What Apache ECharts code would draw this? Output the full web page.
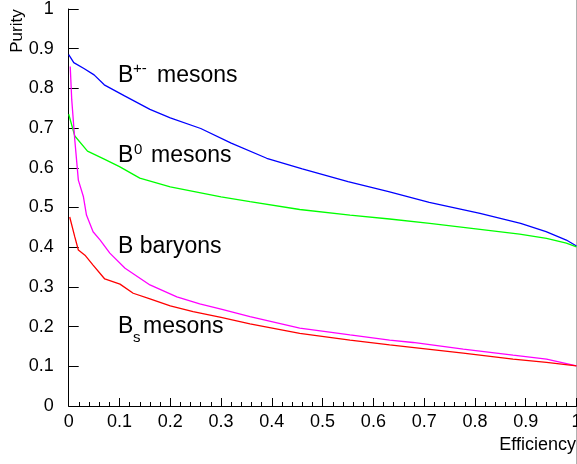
<!DOCTYPE html>
<html>
<head>
<meta charset="utf-8">
<script src="https://cdn.jsdelivr.net/npm/echarts@6/dist/echarts.min.js"></script>
<style>
  html, body { margin: 0; padding: 0; background: #fff; }
  #chart { width: 577px; height: 464px; }
</style>
</head>
<body>
<div id="chart"></div>
<script>
// purity vs efficiency
var bPlusMinus = [[0, 0.885], [0.01, 0.865], [0.03, 0.85], [0.05, 0.834], [0.07, 0.809], [0.11, 0.781],
  [0.16, 0.747], [0.2, 0.726], [0.26, 0.699], [0.32, 0.662], [0.39, 0.624], [0.46, 0.597], [0.55, 0.565],
  [0.63, 0.54], [0.71, 0.513], [0.81, 0.485], [0.89, 0.46], [0.94, 0.439], [0.98, 0.418], [1.0, 0.403]];
var bZero = [[0, 0.735], [0.012, 0.68], [0.037, 0.642], [0.07, 0.622], [0.1, 0.603], [0.14, 0.574],
  [0.2, 0.552], [0.26, 0.537], [0.3, 0.527], [0.357, 0.515], [0.455, 0.495], [0.554, 0.481], [0.632, 0.471],
  [0.711, 0.46], [0.81, 0.445], [0.888, 0.433], [0.941, 0.422], [0.98, 0.41], [1.0, 0.401]];
var bBaryons = [[0.003, 0.855], [0.006, 0.771], [0.012, 0.67], [0.019, 0.569], [0.029, 0.527], [0.035, 0.481],
  [0.048, 0.439], [0.062, 0.418], [0.081, 0.385], [0.111, 0.347], [0.16, 0.305], [0.213, 0.275], [0.258, 0.257],
  [0.3, 0.244], [0.357, 0.225], [0.455, 0.196], [0.554, 0.179], [0.632, 0.166], [0.678, 0.16], [0.777, 0.143],
  [0.875, 0.128], [0.941, 0.118], [1.0, 0.101]];
var bS = [[0.002, 0.476], [0.012, 0.426], [0.019, 0.393], [0.032, 0.38], [0.048, 0.355], [0.071, 0.32],
  [0.101, 0.307], [0.127, 0.284], [0.16, 0.27], [0.2, 0.252], [0.245, 0.238], [0.3, 0.223], [0.357, 0.207],
  [0.455, 0.183], [0.554, 0.166], [0.632, 0.154], [0.777, 0.133], [0.875, 0.118], [0.941, 0.11], [1.0, 0.101]];

var font = 'Liberation Sans, Arial, sans-serif';

function curve(data, color) {
  return {
    type: 'line',
    data: data,
    showSymbol: false,
    symbol: 'none',
    lineStyle: { color: color, width: 1.3 },
    silent: true
  };
}

function txt(x, y, text, size) {
  return {
    type: 'text', x: x, y: y, silent: true,
    style: { text: text, fill: '#000', font: size + 'px ' + font, align: 'left', verticalAlign: 'middle' }
  };
}

var chart = echarts.init(document.getElementById('chart'));
var option = {
  animation: false,
  backgroundColor: '#fff',
  grid: { left: 68.7, right: 0.5, top: 9, bottom: 58, containLabel: false, outerBoundsMode: 'none' },
  xAxis: {
    type: 'value', min: 0, max: 1, interval: 0.1,
    splitLine: { show: false },
    axisLine: { lineStyle: { color: '#000', width: 1 } },
    axisTick: { inside: true, length: 8, lineStyle: { color: '#000' } },
    minorTick: { show: true, splitNumber: 5, length: 4, lineStyle: { color: '#000' } },
    axisLabel: { color: '#000', fontSize: 18, fontFamily: font, margin: 7, hideOverlap: false }
  },
  yAxis: {
    type: 'value', min: 0, max: 1, interval: 0.1,
    splitLine: { show: false },
    axisLine: { show: true, lineStyle: { color: '#000', width: 1 } },
    axisTick: { inside: true, length: 10, lineStyle: { color: '#000' } },
    axisLabel: { color: '#000', fontSize: 18, fontFamily: font, margin: 15 }
  },
  series: [
    curve(bPlusMinus, '#0000ff'),
    curve(bZero, '#00ff00'),
    curve(bBaryons, '#ff00ff'),
    curve(bS, '#ff0000')
  ],
  graphic: [
    {
      type: 'text', x: 17, y: 31, rotation: Math.PI / 2, silent: true,
      style: { text: 'Purity', fill: '#000', font: '17px ' + font, align: 'center', verticalAlign: 'middle' }
    },
    {
      type: 'text', x: 576, y: 445, silent: true,
      style: { text: 'Efficiency', fill: '#000', font: '18px ' + font, align: 'right', verticalAlign: 'middle' }
    },
    txt(118, 76, 'B', 23), txt(133, 69, '+-', 15), txt(157, 76, 'mesons', 23),
    txt(118, 156, 'B', 23), txt(134, 150, '0', 15), txt(151, 156, 'mesons', 23),
    txt(118, 247, 'B baryons', 23),
    txt(118, 327, 'B', 23), txt(133, 338, 's', 15), txt(143, 327, 'mesons', 23),
    {
      type: 'line', silent: true,
      shape: { x1: 576.5, y1: 0, x2: 576.5, y2: 464 },
      style: { stroke: '#b0b0b0', lineWidth: 1 }
    }
  ]
};
chart.setOption(option);
</script>
</body>
</html>
